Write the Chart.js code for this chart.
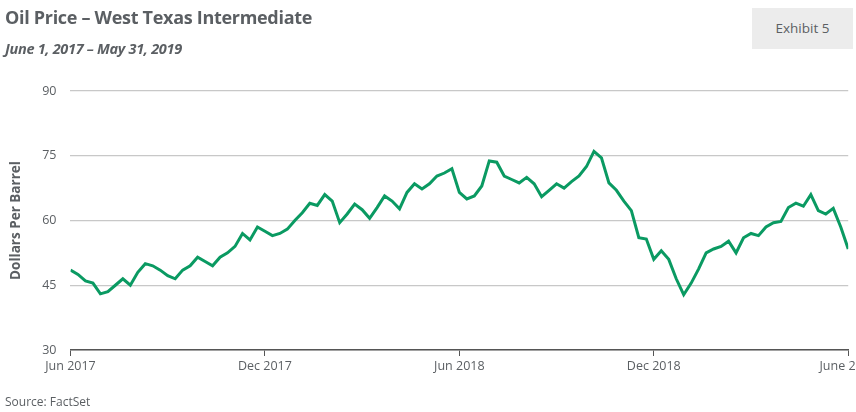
<!DOCTYPE html>
<html>
<head>
<meta charset="utf-8">
<script src="https://cdn.jsdelivr.net/npm/chart.js@4"></script>
<style>
  body { margin: 0; width: 856px; height: 412px; background: #fff; font-family: "Open Sans", sans-serif; overflow: hidden; position: relative; }
  #title { position: absolute; left: 5px; top: 5px; font-size: 18px; font-weight: bold; color: #5b5f63; letter-spacing: -0.3px; }
  #sub { position: absolute; left: 5px; top: 39px; font-size: 14.5px; font-weight: bold; font-style: italic; color: #5b5f63; letter-spacing: -0.3px; }
  #exhibit { position: absolute; left: 752px; top: 8px; width: 101px; height: 41px; background: #ececec; color: #5b5f63; font-size: 13.5px; line-height: 41px; text-align: center; }
  #source { position: absolute; left: 5px; top: 393px; font-size: 12px; color: #5b5f63; }
  #wrap { position: absolute; left: 0; top: 0; width: 880px; height: 412px; }
</style>
</head>
<body>
<div id="wrap"><canvas id="chart"></canvas></div>
<div id="title">Oil Price – West Texas Intermediate</div>
<div id="sub">June 1, 2017 – May 31, 2019</div>
<div id="exhibit">Exhibit 5</div>
<div id="source">Source: FactSet</div>
<script>
// weekly WTI closes, Jun 2017 - May 2019
const prices = [
  48.5, 47.5, 46, 45.5, 43, 43.5, 45, 46.5, 45, 48,
  50, 49.5, 48.5, 47.2, 46.5, 48.5, 49.5, 51.5, 50.5, 49.5,
  51.5, 52.5, 54, 57, 55.5, 58.5, 57.5, 56.5, 57, 58,
  60, 61.8, 64, 63.5, 66, 64.5, 59.5, 61.5, 63.8, 62.5,
  60.5, 63, 65.7, 64.5, 62.7, 66.5, 68.5, 67.3, 68.5, 70.3,
  71, 72, 66.5, 65, 65.7, 68, 73.8, 73.5, 70.3, 69.5,
  68.7, 70, 68.5, 65.5, 67, 68.5, 67.5, 69, 70.3, 72.5,
  76, 74.5, 68.7, 67, 64.5, 62.3, 56, 55.7, 51, 53,
  51, 46.5, 42.8, 45.5, 48.8, 52.5, 53.4, 54, 55.2, 52.5,
  56, 57, 56.5, 58.5, 59.5, 59.8, 63, 64, 63.3, 66,
  62.3, 61.5, 62.8, 58.5, 53.4
];
// tick labels every 26 weeks
const tickLabels = { 0: "Jun 2017", 26: "Dec 2017", 52: "Jun 2018", 78: "Dec 2018", 104: "June 2019" };
const yTicks = [30, 45, 60, 75, 90];

const labels = prices.map((_, i) => i);
const grey = "#5b5f63";
const fam = "'Open Sans', sans-serif";

new Chart(document.getElementById("chart"), {
  type: "line",
  data: {
    labels: labels,
    datasets: [{
      data: prices,
      borderColor: "#0a9a62",
      borderWidth: 3,
      pointRadius: 0,
      tension: 0
    }]
  },
  options: {
    responsive: true,
    maintainAspectRatio: false,
    animation: false,
    layout: { padding: { top: 91, right: 2, bottom: 35, left: 4 } },
    plugins: { legend: { display: false }, tooltip: { enabled: false } },
    scales: {
      x: {
        type: "linear",
        min: 0,
        max: 104,
        afterBuildTicks: axis => { axis.ticks = Object.keys(tickLabels).map(v => ({ value: +v })); },
        ticks: {
          color: grey,
          font: { size: 12.5, family: fam },
          maxRotation: 0,
          callback: v => tickLabels[v]
        },
        grid: { drawOnChartArea: false, color: "#555", tickLength: 6 },
        border: { color: "#555", width: 1.5 }
      },
      y: {
        min: 30,
        max: 90,
        afterBuildTicks: axis => { axis.ticks = yTicks.map(v => ({ value: v })); },
        ticks: {
          color: grey,
          padding: 14,
          font: { size: 12.5, family: fam }
        },
        title: {
          display: true,
          text: "Dollars Per Barrel",
          color: grey,
          font: { size: 13.5, weight: "bold", family: fam }
        },
        grid: { color: "#c8c8c8", lineWidth: 1.2, drawTicks: false },
        border: { display: false }
      }
    }
  }
});
</script>
</body>
</html>
